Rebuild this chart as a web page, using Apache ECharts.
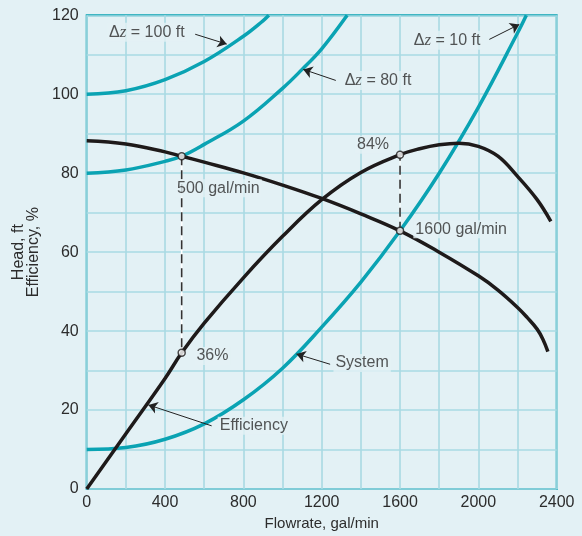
<!DOCTYPE html>
<html>
<head>
<meta charset="utf-8">
<script src="https://cdn.jsdelivr.net/npm/echarts@6/dist/echarts.min.js"></script>
<style>
html,body{margin:0;padding:0;background:#e3f1f5;}
#c{width:582px;height:536px;}
</style>
</head>
<body>
<div id="c"></div>
<script>
// ---- data ----
const xTicks = [0, 400, 800, 1200, 1600, 2000, 2400];
const yTicks = [0, 20, 40, 60, 80, 100, 120];

const headFlow = [0, 200, 400, 485, 600, 800, 1000, 1200, 1400, 1600, 1800, 2000, 2100, 2200, 2250, 2300, 2330, 2355];
const headVals = [88.2, 87.4, 85.4, 84.3, 82.8, 80.1, 77.0, 73.6, 69.7, 65.4, 60.0, 54.0, 50.4, 46.0, 43.4, 40.5, 37.9, 34.8];

const effFlow = [0, 200, 400, 485, 600, 800, 1000, 1200, 1400, 1600, 1700, 1800, 1900, 2000, 2100, 2200, 2300, 2370];
const effVals = [0, 14, 28, 34.5, 42, 53.5, 64, 73.3, 80.2, 84.7, 86.2, 87.2, 87.6, 86.8, 84.3, 79.2, 73.3, 67.8];

const sys100Flow = [0, 200, 400, 600, 800, 900, 930];
const sys100Vals = [100, 100.9, 103.7, 108.3, 114.7, 118.6, 120];

const sys80Flow = [0, 200, 400, 485, 600, 800, 1000, 1100, 1200, 1330];
const sys80Vals = [80, 80.8, 83, 84.3, 87.3, 93.2, 101.5, 106.3, 111.5, 120];

const sys10Flow = [0, 200, 400, 600, 800, 1000, 1200, 1400, 1600, 1800, 2000, 2200, 2245];
const sys10Vals = [10, 10.5, 12.6, 16.5, 22.6, 30.6, 41, 52.4, 65.4, 80, 96.7, 115.5, 120];

// operating points: [flow, head, efficiency]
const opFlow = [485, 1600];
const opHead = [84.3, 65.4];
const opEff = [34.5, 84.7];

// annotation texts and their anchor (data coords)
const annText = ['dz100', 'dz80', 'dz10', '500 gal/min', '84%', '1600 gal/min', '36%', 'System', 'Efficiency'];
const annFlow = [104, 1307, 1660, 451, 1370, 1668, 550, 1260, 669];
const annHead = [115.7, 103.5, 113.7, 76.2, 87.2, 65.8, 33.7, 31.9, 16.0];

// arrows: from [flow, head] to [flow, head]
const arrowFrom = [[554, 115.2], [1272, 103.5], [2056, 113.9], [1243, 31.6], [638, 16.0]];
const arrowTo = [[715, 112.7], [1106, 106.3], [2209, 117.7], [1071, 34.2], [315, 21.3]];

// ---- build ----
const zip = (a, b) => a.map((v, i) => [v, b[i]]);
const TEAL = '#0aa3b3';
const BLACK = '#1e1a1a';
const BG = '#e3f1f5';
const TXT = '#2c2c2c';
const FONT = 'Liberation Sans';

const dz = {
  dz100: '{d|Δ}{z|z}{t| = 100 ft}',
  dz80: '{d|Δ}{z|z}{t| = 80 ft}',
  dz10: '{d|Δ}{z|z}{t| = 10 ft}'
};

const chart = echarts.init(document.getElementById('c'), null, {renderer: 'canvas'});

const curve = (data, color, z) => ({
  type: 'line', data: data, showSymbol: false, smooth: 0.4,
  lineStyle: {color: color, width: 3.5}, z: z, silent: true
});

const series = [
  curve(zip(sys100Flow, sys100Vals), TEAL, 3),
  curve(zip(sys80Flow, sys80Vals), TEAL, 3),
  curve(zip(sys10Flow, sys10Vals), TEAL, 3),
  curve(zip(headFlow, headVals), BLACK, 4),
  curve(zip(effFlow, effVals), BLACK, 4)
];

opFlow.forEach((q, i) => {
  const seg = [[q, opHead[i]], [q, opEff[i]]];
  series.push({type: 'line', data: seg, showSymbol: false, lineStyle: {color: '#ffffff', width: 1.6}, z: 2, silent: true});
  series.push({type: 'line', data: seg, showSymbol: false, lineStyle: {color: '#333333', width: 1.6, type: [9, 5]}, z: 2, silent: true});
});

series.push({
  type: 'scatter', z: 6, symbol: 'circle', symbolSize: 7,
  data: opFlow.map((q, i) => [q, opHead[i]]).concat(opFlow.map((q, i) => [q, opEff[i]])),
  itemStyle: {color: '#ffffff', borderColor: BLACK, borderWidth: 1.5}
});

series.push({
  type: 'scatter', z: 7, symbolSize: 0,
  data: annText.map((t, i) => ({value: [annFlow[i], annHead[i]], name: t})),
  label: {
    show: true, position: 'right', distance: 0,
    formatter: p => dz[p.name] || p.name,
    color: TXT, fontFamily: FONT, fontSize: 16,
    backgroundColor: BG, padding: [1, 2, 1, 2],
    rich: {
      d: {fontFamily: FONT, fontSize: 16, color: TXT},
      z: {fontFamily: 'Liberation Serif', fontStyle: 'italic', fontSize: 17, color: TXT},
      t: {fontFamily: FONT, fontSize: 16, color: TXT}
    }
  }
});

series.push({
  type: 'line', data: [], z: 5,
  markLine: {
    silent: true, animation: false,
    symbol: ['none', 'arrow'], symbolSize: 9,
    lineStyle: {color: '#222222', width: 1, type: 'solid'},
    label: {show: false},
    data: arrowFrom.map((f, i) => [{coord: f}, {coord: arrowTo[i]}])
  }
});

chart.setOption({
  animation: false,
  backgroundColor: BG,
  grid: {
    left: 86.7, right: 25.3, top: 15.3, bottom: 46,
    show: true, backgroundColor: BG, borderColor: TEAL, borderWidth: 2
  },
  xAxis: {
    type: 'value', min: 0, max: 2400, interval: 200,
    name: 'Flowrate, gal/min', nameLocation: 'middle', nameGap: 27,
    nameTextStyle: {fontFamily: FONT, fontSize: 15, color: TXT},
    axisLine: {show: false}, axisTick: {show: false},
    axisLabel: {
      formatter: v => (xTicks.indexOf(v) >= 0 ? String(v) : ''),
      fontFamily: FONT, fontSize: 16, color: TXT, margin: 6
    },
    splitLine: {show: true, lineStyle: {color: '#a9dae3', width: 1.6}}
  },
  yAxis: {
    type: 'value', min: 0, max: 120, interval: 10,
    name: 'Head, ft\nEfficiency, %', nameLocation: 'middle', nameGap: 41,
    nameTextStyle: {fontFamily: FONT, fontSize: 16, color: TXT, lineHeight: 15},
    axisLine: {show: false}, axisTick: {show: false},
    axisLabel: {
      formatter: v => (yTicks.indexOf(v) >= 0 ? String(v) : ''),
      fontFamily: FONT, fontSize: 16, color: TXT, margin: 8
    },
    splitLine: {show: true, lineStyle: {color: '#a9dae3', width: 1.6}}
  },
  series: series
});
</script>
</body>
</html>
